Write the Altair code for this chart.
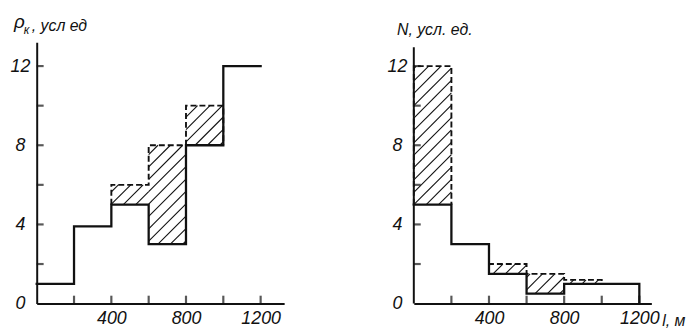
import altair as alt
import pandas as pd

# ---- data ----
BIN_EDGES = [0, 200, 400, 600, 800, 1000, 1200]

LEFT_SOLID = [1, 3.9, 5, 3, 8, 12]
LEFT_UPPER = [None, None, 6, 8, 10, None]

RIGHT_SOLID = [5, 3, 1.5, 0.5, 1, 1]
RIGHT_UPPER = [12, None, 2, 1.5, 1.2, None]
RIGHT_END_VALUE = 0          # right solid line drops back to 0 at its end

X_TICKS = [200, 400, 600, 800, 1000, 1200]
X_LABELS = [400, 800, 1200]
Y_TICKS = [2, 4, 6, 8, 10, 12]
Y_LABELS = [0, 4, 8, 12]

LEFT_TITLE = ["ρ", "к", ", усл ед"]
RIGHT_TITLE = ["N, усл. ед."]
RIGHT_X_TITLE = ["l, м"]

# ---- layout / style ----
LEFT_XMAX, RIGHT_XMAX = 1326, 1264
YMAX = 13.2
RIGHT_YAXIS_TOP = 12.95
W1, W2, H = 250, 240, 264
HATCH_STEP = 12.5
TICK_PX_X = 8     # inward tick length on the x axis, px
TICK_PX_Y = 7     # inward tick length on the y axis, px
HATCH_W, TICK_W, AXIS_W = 1.1, 2.2, 2.0
FONT = "Liberation Sans"
INK = "#111111"


def solid_df(solid, end_value=None):
    rows = []
    for i, v in enumerate(solid):
        rows.append((BIN_EDGES[i], v))
        rows.append((BIN_EDGES[i + 1], v))
    if end_value is not None:
        rows.append((BIN_EDGES[-1], end_value))
    return pd.DataFrame([{"x": x, "y": y, "o": k} for k, (x, y) in enumerate(rows)])


def dashed_df(solid, upper):
    rows = []
    g = 0
    i = 0
    n = len(solid)
    while i < n:
        if upper[i] is None:
            i += 1
            continue
        a = i
        while i < n and upper[i] is not None:
            i += 1
        b = i - 1
        pts = [(BIN_EDGES[a], solid[a])]
        for k in range(a, b + 1):
            pts.append((BIN_EDGES[k], upper[k]))
            pts.append((BIN_EDGES[k + 1], upper[k]))
        pts.append((BIN_EDGES[b + 1], solid[b]))
        for o, (x, y) in enumerate(pts):
            rows.append({"x": x, "y": y, "o": o, "g": g})
        g += 1
    return pd.DataFrame(rows)


def hatch_df(solid, upper, xmax, width):
    sx = width / xmax
    sy = H / YMAX
    rows = []
    for i, u in enumerate(upper):
        if u is None:
            continue
        X0, X1 = BIN_EDGES[i] * sx, BIN_EDGES[i + 1] * sx
        Y0, Y1 = solid[i] * sy, u * sy
        kmin = int((Y0 - X1) // HATCH_STEP) - 1
        kmax = int((Y1 - X0) // HATCH_STEP) + 1
        for k in range(kmin, kmax + 1):
            b = k * HATCH_STEP
            xs = max(X0, Y0 - b)
            xe = min(X1, Y1 - b)
            if xe - xs > 0.8:
                rows.append({"x": xs / sx, "y": (xs + b) / sy,
                             "x2": xe / sx, "y2": (xe + b) / sy})
    return pd.DataFrame(rows)


def panel(solid, upper, xmax, width, end_value=None, right=False):
    xs = alt.Scale(domain=[0, xmax], nice=False, zero=True)
    ys = alt.Scale(domain=[0, YMAX], nice=False, zero=True)
    xaxis = alt.Axis(values=X_LABELS, format="d", ticks=False, tickSize=0, grid=False,
                     title=None, domain=True, domainColor=INK, domainWidth=AXIS_W,
                     labelFont=FONT, labelFontSize=18, labelFontStyle="italic",
                     labelColor=INK, labelPadding=6, labelFlush=False)
    yaxis = alt.Axis(values=Y_LABELS, format="d", ticks=False, tickSize=0, grid=False,
                     title=None, domain=not right, domainColor=INK, domainWidth=AXIS_W,
                     labelFont=FONT, labelFontSize=18, labelFontStyle="italic",
                     labelColor=INK, labelPadding=17, labelAlign="center",
                     labelFlush=False)

    hatch = alt.Chart(hatch_df(solid, upper, xmax, width)).mark_rule(
        color=INK, strokeWidth=HATCH_W).encode(
        x=alt.X("x:Q", scale=xs, axis=xaxis),
        y=alt.Y("y:Q", scale=ys, axis=yaxis),
        x2="x2:Q", y2="y2:Q")

    # inward ticks: vertical stubs on the x axis, horizontal stubs on the y axis
    xt = alt.Chart(pd.DataFrame({"t": X_TICKS})).mark_tick(
        color=INK, thickness=TICK_W, size=TICK_PX_X, orient="vertical",
        yOffset=-TICK_PX_X / 2).encode(
        x=alt.X("t:Q", scale=xs), y=alt.value(H))
    yt = alt.Chart(pd.DataFrame({"t": Y_TICKS})).mark_tick(
        color=INK, thickness=TICK_W, size=TICK_PX_Y, orient="horizontal",
        xOffset=TICK_PX_Y / 2).encode(
        y=alt.Y("t:Q", scale=ys), x=alt.value(0))

    dashed = alt.Chart(dashed_df(solid, upper)).mark_line(
        color=INK, strokeWidth=1.9, strokeDash=[6, 3]).encode(
        x=alt.X("x:Q", scale=xs), y=alt.Y("y:Q", scale=ys),
        order="o:Q", detail="g:N")

    line = alt.Chart(solid_df(solid, end_value)).mark_line(
        color=INK, strokeWidth=2.3, strokeJoin="miter", strokeCap="square").encode(
        x=alt.X("x:Q", scale=xs), y=alt.Y("y:Q", scale=ys), order="o:Q")

    layers = [hatch, dashed, line, xt, yt]

    if right:
        yline = alt.Chart(pd.DataFrame({"a": [0.0], "b": [RIGHT_YAXIS_TOP]})).mark_rule(
            color=INK, strokeWidth=AXIS_W).encode(
            x=alt.value(0), y=alt.Y("a:Q", scale=ys), y2="b:Q")
        t1 = alt.Chart(pd.DataFrame({"s": RIGHT_TITLE})).mark_text(
            font=FONT, fontSize=16, fontStyle="italic", color=INK, align="left",
            baseline="middle").encode(text="s:N", x=alt.value(-17), y=alt.value(-12))
        t2 = alt.Chart(pd.DataFrame({"s": RIGHT_X_TITLE})).mark_text(
            font=FONT, fontSize=16, fontStyle="italic", color=INK, align="left",
            baseline="middle").encode(text="s:N", x=alt.value(width + 11), y=alt.value(H + 18))
        layers += [yline, t1, t2]
    else:
        t_rho = alt.Chart(pd.DataFrame({"s": [LEFT_TITLE[0]]})).mark_text(
            font=FONT, fontSize=19, fontStyle="italic", color=INK, align="left",
            baseline="middle").encode(text="s:N", x=alt.value(-23), y=alt.value(-20))
        t_k = alt.Chart(pd.DataFrame({"s": [LEFT_TITLE[1]]})).mark_text(
            font=FONT, fontSize=12, fontStyle="italic", color=INK, align="left",
            baseline="middle").encode(text="s:N", x=alt.value(-13), y=alt.value(-12))
        t_rest = alt.Chart(pd.DataFrame({"s": [LEFT_TITLE[2]]})).mark_text(
            font=FONT, fontSize=16, fontStyle="italic", color=INK, align="left",
            baseline="middle").encode(text="s:N", x=alt.value(-5), y=alt.value(-16))
        layers += [t_rho, t_k, t_rest]

    return alt.layer(*layers).properties(width=width, height=H)


left = panel(LEFT_SOLID, LEFT_UPPER, LEFT_XMAX, W1)
right = panel(RIGHT_SOLID, RIGHT_UPPER, RIGHT_XMAX, W2, end_value=RIGHT_END_VALUE, right=True)

chart = alt.hconcat(left, right, spacing=103).properties(
    padding={"left": 1, "top": 4, "right": 0, "bottom": 0},
    background="white",
).configure_view(stroke=None)

chart.save("out.html", embed_options={"renderer": "svg", "actions": False})
